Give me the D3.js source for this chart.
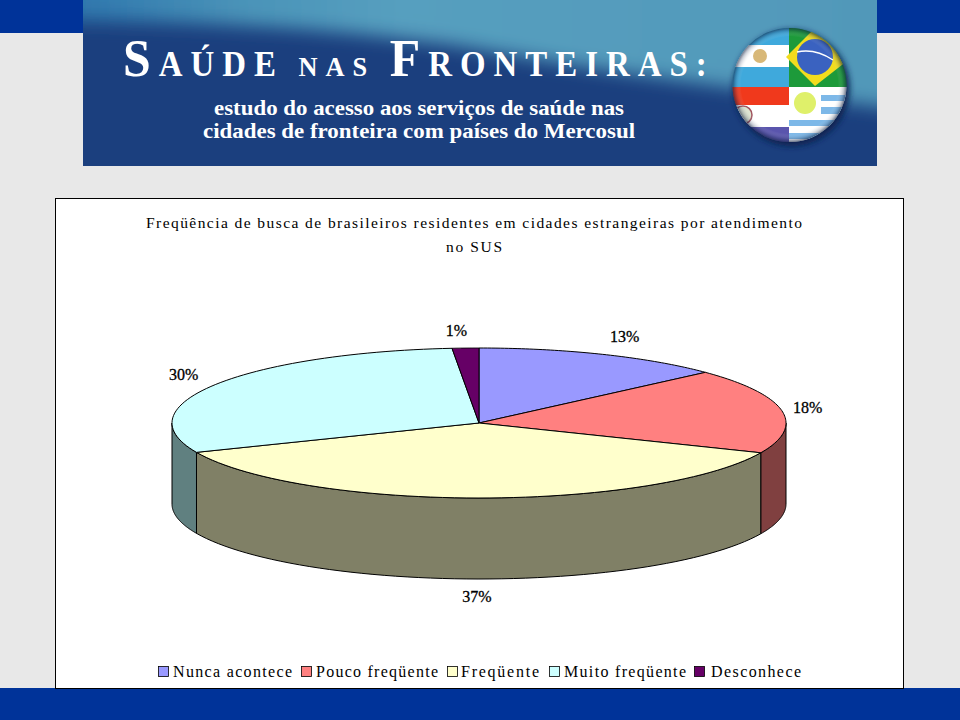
<!DOCTYPE html>
<html><head><meta charset="utf-8">
<script src="https://cdn.jsdelivr.net/npm/d3@7/dist/d3.min.js"></script>
<style>html,body{margin:0;padding:0;background:#e8e8e8}svg{display:block}text{font-family:"Liberation Serif",serif}</style>
</head><body><svg id="c" width="960" height="720"></svg>
<script>
const categories=["Nunca acontece","Pouco freqüente","Freqüente","Muito freqüente","Desconhece"];
const values=[13.2,18.3,37.1,30,1.4];
const topColors=["#9999ff","#ff8080","#ffffcc","#ccffff","#660066"];
const sideColors=["#4d4d80","#804040","#808066","#608080","#330033"];
const labelOffsets=[[22,-18],[26,-4],[-1,98],[-32,-10],[-9,-18]];
const legendX=[[158,173,292],[301,316,438],[447,461,539],[549,564,686],[694,711,801]];
const titleLines=[["Freqüência de busca de brasileiros residentes em cidades estrangeiras por atendimento",146,802,228],["no SUS",446,502,252]];

const svg=d3.select("#c");
const defs=svg.append("defs");
svg.append("rect").attr("width",960).attr("height",720).attr("fill","#e8e8e8");
svg.append("rect").attr("width",960).attr("height",33).attr("fill","#003399");
svg.append("rect").attr("y",688).attr("width",960).attr("height",32).attr("fill","#003399");

// banner
const g1=defs.append("linearGradient").attr("id","bn").attr("gradientUnits","userSpaceOnUse").attr("x1",83).attr("y1",0).attr("x2",877).attr("y2",0);
[[0,"#2f78ae"],[.2,"#4a93b8"],[.4,"#569fbf"],[1,"#5198b9"]].forEach(d=>g1.append("stop").attr("offset",d[0]).attr("stop-color",d[1]));
defs.append("clipPath").attr("id","bc").append("rect").attr("x",83).attr("y",0).attr("width",794).attr("height",166);
defs.append("filter").attr("id","bl").attr("x","-10%").attr("y","-30%").attr("width","120%").attr("height","160%").append("feGaussianBlur").attr("stdDeviation",9);
const bn=svg.append("g").attr("clip-path","url(#bc)");
bn.append("rect").attr("x",83).attr("width",794).attr("height",166).attr("fill","#1b3f7e");
bn.append("path").attr("d","M40,-30H920V112C800,96 640,78 460,46C300,24 180,22 40,20Z").attr("fill","url(#bn)").attr("filter","url(#bl)");
const heading=bn.append("text").attr("transform","translate(123,76) scale(0.94,1)").attr("fill","#fff").attr("font-weight","bold").attr("textLength",621).attr("lengthAdjust","spacing");
[["S",53],["AÚDE",35],[" ",28],["NAS",28],[" ",28],["F",53],["RONTEIRAS:",35]].forEach(d=>heading.append("tspan").attr("font-size",d[1]).text(d[0]));
[["estudo do acesso aos serviços de saúde nas",214,410,115],["cidades de fronteira com países do Mercosul",203,432,138]].forEach(d=>
 bn.append("text").attr("x",d[1]).attr("y",d[3]).attr("font-size",22).attr("font-weight","bold").attr("fill","#fff").attr("textLength",d[2]).attr("lengthAdjust","spacingAndGlyphs").text(d[0]));

// flag ball
const bx=789.5,by=85,br=57;
defs.append("clipPath").attr("id","ball").append("circle").attr("cx",bx).attr("cy",by).attr("r",br);
defs.append("filter").attr("id","sh").append("feGaussianBlur").attr("stdDeviation",3);
const rg=defs.append("radialGradient").attr("id","gl").attr("cx",.5).attr("cy",.5).attr("r",.5);
[[0,"#fff",0],[.85,"#fff",0],[.95,"#203050",.25],[1,"#102040",.6]].forEach(d=>rg.append("stop").attr("offset",d[0]).attr("stop-color",d[1]).attr("stop-opacity",d[2]));
bn.append("circle").attr("cx",bx+2).attr("cy",by+3).attr("r",br+1).attr("fill","#0d2350").attr("filter","url(#sh)");
const b=bn.append("g").attr("clip-path","url(#ball)");
const R=(x,y,w,h,f)=>b.append("rect").attr("x",x).attr("y",y).attr("width",w).attr("height",h).attr("fill",f);
R(732,28,57,17,"#3fa9dc");R(732,45,57,22,"#fff");R(732,67,57,20,"#3fa9dc");
b.append("circle").attr("cx",760).attr("cy",56).attr("r",7).attr("fill","#d8b878");
R(789,28,58,59,"#1d9a3a");
b.append("path").attr("d","M786,57L815,28L852,57L815,86Z").attr("fill","#f2dc1e");
b.append("circle").attr("cx",815).attr("cy",57).attr("r",18).attr("fill","#3a62c0");
b.append("path").attr("d","M797,52Q815,48 833,60").attr("fill","none").attr("stroke","#fff").attr("stroke-width",1.5);
R(732,87,57,18,"#f0391c");R(732,105,57,22,"#fff");R(732,127,57,16,"#5a55ad");
b.append("circle").attr("cx",743).attr("cy",115).attr("r",9).attr("fill","#dde4d0").attr("stroke","#a05560").attr("stroke-width",1.5);
R(789,87,58,56,"#fff");
[[821,95,26,6],[821,107,26,7],[789,120,58,6],[789,133,58,6]].forEach(d=>R(d[0],d[1],d[2],d[3],"#7db8e8"));
b.append("circle").attr("cx",805).attr("cy",103).attr("r",11).attr("fill","#dff06a");
bn.append("circle").attr("cx",bx).attr("cy",by).attr("r",br).attr("fill","url(#gl)");

// chart box
svg.append("rect").attr("x",55.5).attr("y",198.5).attr("width",848).attr("height",490).attr("fill","#fff").attr("stroke","#000");
titleLines.forEach(d=>svg.append("text").attr("x",d[1]).attr("y",d[3]).attr("font-size",15.5).attr("textLength",d[2]-d[1]).attr("lengthAdjust","spacing").attr("fill","#000").text(d[0]));

// pie
const sx=d3.scaleLinear().domain([-1,1]).range([172,786]);
const sy=d3.scaleLinear().domain([-1,1]).range([348,498]);
const depth=81;
const arcs=d3.pie().sort(null).value(d=>d)(values);
const pt=a=>[sx(Math.sin(a)),sy(-Math.cos(a))];
const samples=(a0,a1)=>d3.range(0,61).map(i=>a0+(a1-a0)*i/60);
const line=d3.line();
const pie=svg.append("g");
arcs.forEach((d,i)=>{
  const a0=Math.max(d.startAngle,Math.PI/2),a1=Math.min(d.endAngle,Math.PI*1.5);
  if(a1<=a0)return;
  const up=samples(a0,a1).map(pt);
  const down=up.slice().reverse().map(p=>[p[0],p[1]+depth]);
  pie.append("path").attr("d",line(up.concat(down))+"Z").attr("fill",sideColors[i]).attr("stroke","#000").attr("stroke-width",1);
});
arcs.forEach((d,i)=>{
  const pts=[[sx(0),sy(0)]].concat(samples(d.startAngle,d.endAngle).map(pt));
  pie.append("path").attr("d",line(pts)+"Z").attr("fill",topColors[i]).attr("stroke","#000").attr("stroke-width",1);
});
arcs.forEach((d,i)=>{
  const p=pt((d.startAngle+d.endAngle)/2);
  svg.append("text").attr("x",p[0]+labelOffsets[i][0]).attr("y",p[1]+labelOffsets[i][1]+6).attr("text-anchor","middle").attr("font-size",16).attr("stroke","#000").attr("stroke-width",.3).attr("fill","#000").text(Math.round(values[i])+"%");
});
categories.forEach((c,i)=>{
  const l=legendX[i];
  svg.append("rect").attr("x",l[0]+.5).attr("y",666.5).attr("width",10).attr("height",10).attr("fill",topColors[i]).attr("stroke","#000").attr("stroke-width",.8);
  svg.append("text").attr("x",l[1]).attr("y",677).attr("font-size",16).attr("textLength",l[2]-l[1]).attr("lengthAdjust","spacing").attr("fill","#000").text(c);
});
</script></body></html>
